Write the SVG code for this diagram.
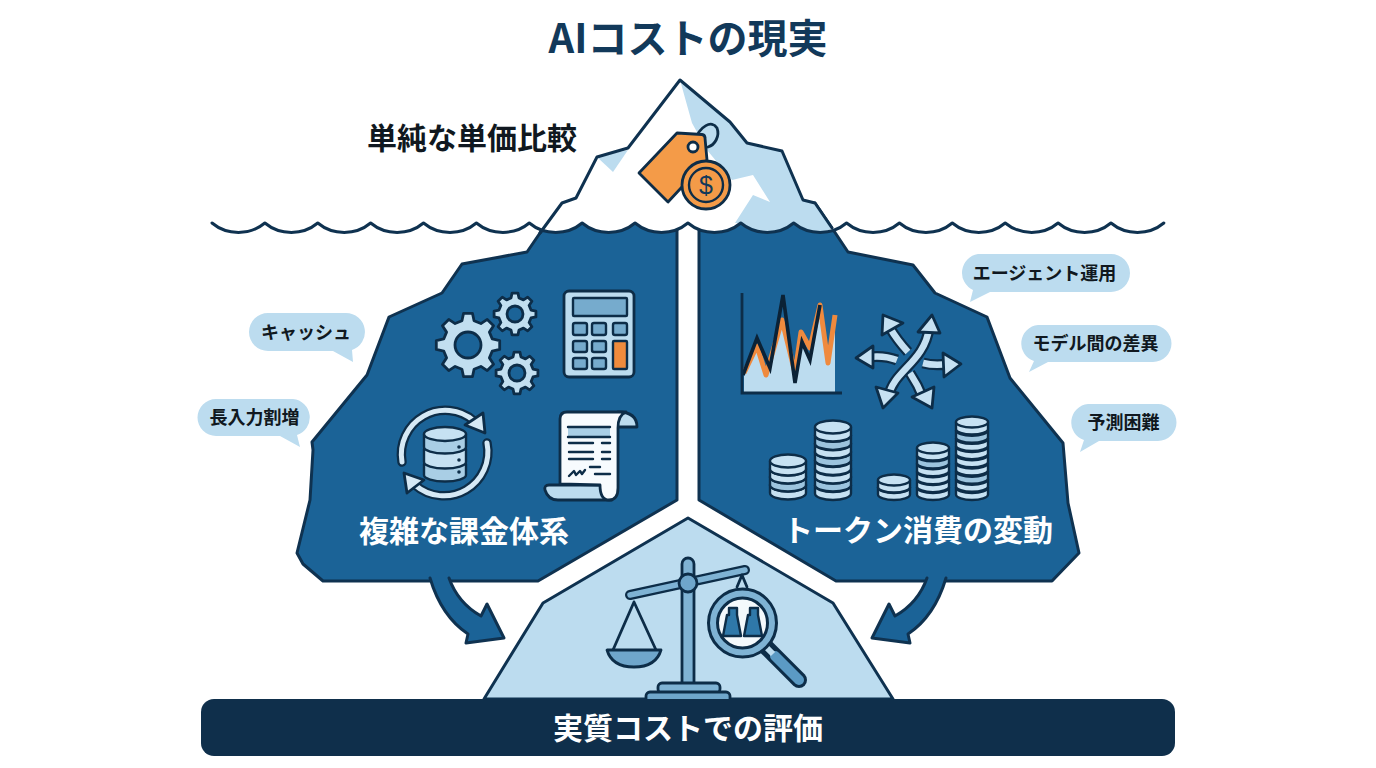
<svg xmlns="http://www.w3.org/2000/svg" xmlns:xlink="http://www.w3.org/1999/xlink" width="1376" height="768" viewBox="0 0 1376 768">
<style>
text{font-family:"Noto Sans CJK JP","Noto Sans",sans-serif;font-weight:700;text-anchor:middle}
.title{font-size:40px;fill:#12395a}
.head{font-size:30px;fill:#101820}
.white{font-size:30px;fill:#fff}
.tag{font-size:18px;fill:#101820}
.ln{stroke:#0f3250;stroke-width:3;stroke-linejoin:round;stroke-linecap:round}
.ic{stroke:#0d2d48;stroke-width:2.8;stroke-linejoin:round;stroke-linecap:round}
.thin{stroke:#0d2d48;stroke-width:2.4;stroke-linejoin:round;stroke-linecap:round}
.panel{fill:#1b6397}
.pale{fill:#bcdcef}
.light{fill:#c6e1f2}
.mid{fill:#76abcd}
.dim{fill:#9cc4de}
.none{fill:none}
.gearfill{fill:#c2dff0;stroke:#0d2d48;stroke-width:2.8;stroke-linejoin:round;vector-effect:non-scaling-stroke}
</style>
<defs>
<polygon id="gear" class="gearfill" vector-effect="non-scaling-stroke" points="31.69,-4.45 31.69,4.45 24.26,6.05 21.43,12.88 25.56,19.26 19.26,25.56 12.88,21.43 6.05,24.26 4.45,31.69 -4.45,31.69 -6.05,24.26 -12.88,21.43 -19.26,25.56 -25.56,19.26 -21.43,12.88 -24.26,6.05 -31.69,4.45 -31.69,-4.45 -24.26,-6.05 -21.43,-12.88 -25.56,-19.26 -19.26,-25.56 -12.88,-21.43 -6.05,-24.26 -4.45,-31.69 4.45,-31.69 6.05,-24.26 12.88,-21.43 19.26,-25.56 25.56,-19.26 21.43,-12.88 24.26,-6.05"/>
<g id="coinL"><path class="thin" d="M-18 0v8a18 6.5 0 0 0 36 0v-8z"/><ellipse class="thin" rx="18" ry="6.5"/></g>
<g id="coinM"><path class="thin" d="M-16 0v7a16 5.5 0 0 0 32 0v-7z"/><ellipse class="thin" rx="16" ry="5.5"/></g>
</defs>

<rect width="1376" height="768" fill="#fff"/>
<text class="title" x="688" y="53">AIコストの現実</text>

<g id="panel-left">
<path class="panel ln" d="M677 215V500L538 581H323L303 564L297 553L310 500L313 450L312 442L367 375L389 317L442 293L462 264L527 252L540 233L562 203Z"/>
<g id="gears">
<use xlink:href="#gear" transform="translate(468 345)"/>
<circle class="panel ic" cx="468" cy="345" r="13"/>
<use xlink:href="#gear" transform="translate(515 314) scale(.66)"/>
<circle class="panel ic" cx="515" cy="314" r="8"/>
<use xlink:href="#gear" transform="translate(517 373) scale(.66)"/>
<circle class="panel ic" cx="517" cy="373" r="8"/>
</g>
<g id="calculator">
<rect class="ic" x="564" y="291" width="70" height="86" rx="5" fill="#bcdcef"/>
<rect class="thin mid" x="573" y="298" width="54" height="18" rx="1"/>
<g class="thin mid">
<rect x="573" y="323" width="14" height="12" rx="2"/><rect x="592" y="323" width="14" height="12" rx="2"/><rect x="613" y="323" width="14" height="12" rx="2"/>
<rect x="573" y="341" width="14" height="11" rx="2"/><rect x="592" y="341" width="14" height="11" rx="2"/>
<rect x="573" y="358" width="14" height="11" rx="2"/><rect x="592" y="358" width="14" height="11" rx="2"/>
</g>
<rect class="thin" x="613" y="341" width="14" height="28" rx="1" fill="#f08b3c"/>
</g>
<g id="database-sync">
<path d="M402 462A44 44 0 0 1 474 421M487 443A44 44 0 0 1 415 485" fill="none" stroke="#0d2d48" stroke-width="9.500" stroke-linecap="round"/>
<path d="M402 462A44 44 0 0 1 474 421M487 443A44 44 0 0 1 415 485" fill="none" stroke="#d6e9f5" stroke-width="5" stroke-linecap="round"/>
<polygon class="ic" fill="#d6e9f5" points="483,413 485,433 465,425"/>
<polygon class="ic" fill="#d6e9f5" points="404,473 407,493 424,480"/>
<path class="thin" fill="#a9cee5" d="M424 464v11a21 6.5 0 0 0 42 0v-11z"/>
<path class="thin" fill="#c6e1f2" d="M424 449v13a21 6.5 0 0 0 42 0v-13z"/>
<path class="thin" fill="#a9cee5" d="M424 434v13a21 6.5 0 0 0 42 0v-13z"/>
<ellipse class="thin" fill="#c6e1f2" cx="445" cy="434" rx="21" ry="7"/>
<g fill="#0d2d48"><circle cx="459" cy="447" r="1.8"/><circle cx="459" cy="460" r="1.8"/><circle cx="459" cy="472" r="1.8"/></g>
</g>
<g id="invoice">
<path class="ic pale" d="M618 412Q637 412 637 427H616Z"/>
<path class="ic pale" d="M600 485H549Q544 485 545 490Q548 500 558 500H612Z"/>
<path class="ic" fill="#f7fbfe" d="M560 484V419Q560 412 567 412H626Q618 415 618 428V488Q618 500 609 500Q600 500 600 485Z"/>
<rect x="568" y="427" width="42" height="10" fill="#a9cee5"/>
<path class="thin none" d="M568 427H610M568 437H610M569 443H593M602 443H610M569 452H593M602 452H610M569 459H593M602 459H610M590 467H600M595 474H610"/>
<path class="thin none" d="M569 476L574 471L576 475L580 471L582 474L585 470"/>
</g>
<text class="white" x="464" y="542">複雑な課金体系</text>
</g>

<g id="panel-right">
<path class="panel ln" d="M699 215V500L836 581H1052L1079 553L1068 503L1063 443L1010 378L987 317L935 293L913 265L848 252L832 228L815 203Z"/>
<g id="volatility-chart">
<polygon class="pale" points="744,375 757,350 766,373 782,327 795,377 801,342 810,358 820,313 828,363 835,317 835,392 744,392"/>
<polyline fill="none" stroke="#ef8a3e" stroke-width="5" stroke-linejoin="round" points="744,373 757,346 766,375 782,320 795,373 801,332 810,348 820,305 828,363 835,315"/>
<polyline fill="none" stroke="#0b2236" stroke-width="3.6" stroke-linejoin="miter" points="743,375 757,338 770,368 783,295 795,383 802,342 810,360 820,305"/>
<path fill="none" stroke="#0d2d48" stroke-width="2.8" d="M742 293V393H842"/>
</g>
<g id="diverging-arrows">
<path d="M908 352Q897 340 890 328M897 360Q884 355 868 357M923 363Q934 366 948 364M910 373Q918 385 923 398" fill="none" stroke="#0d2d48" stroke-width="11"/>
<path d="M908 352Q897 340 890 328M897 360Q884 355 868 357M923 363Q934 366 948 364M910 373Q918 385 923 398" fill="none" stroke="#c6e1f2" stroke-width="6.500"/>
<polygon class="ic light" points="883,315 882,335 903,323"/>
<polygon class="ic light" points="856,358 873,346 873,368"/>
<polygon class="ic light" points="961,364 943,353 944,377"/>
<polygon class="ic light" points="932,408 912,397 934,387"/>
<path d="M889 396C892 372 925 362 929 328" fill="none" stroke="#0d2d48" stroke-width="11"/>
<path d="M889 396C892 372 925 362 929 328" fill="none" stroke="#c6e1f2" stroke-width="6.500"/>
<polygon class="ic light" points="932,315 918,332 940,333"/>
<polygon class="ic light" points="883,408 876,387 898,393"/>
</g>
<g id="token-coins">
<use xlink:href="#coinL" x="788" y="485" class="light"/>
<use xlink:href="#coinL" x="788" y="477" class="dim"/>
<use xlink:href="#coinL" x="788" y="469" class="light"/>
<use xlink:href="#coinL" x="788" y="461" class="light"/>
<use xlink:href="#coinL" x="833" y="485.5" class="light"/>
<use xlink:href="#coinL" x="833" y="477" class="dim"/>
<use xlink:href="#coinL" x="833" y="469" class="light"/>
<use xlink:href="#coinL" x="833" y="460.5" class="light"/>
<use xlink:href="#coinL" x="833" y="452" class="dim"/>
<use xlink:href="#coinL" x="833" y="443.7" class="light"/>
<use xlink:href="#coinL" x="833" y="435.4" class="dim"/>
<use xlink:href="#coinL" x="833" y="427" class="light"/>
<use xlink:href="#coinM" x="894" y="487.5" class="light"/>
<use xlink:href="#coinM" x="894" y="480" class="light"/>
<use xlink:href="#coinM" x="933" y="487.5" class="light"/>
<use xlink:href="#coinM" x="933" y="479.6" class="light"/>
<use xlink:href="#coinM" x="933" y="471.7" class="light"/>
<use xlink:href="#coinM" x="933" y="463.8" class="light"/>
<use xlink:href="#coinM" x="933" y="455.9" class="dim"/>
<use xlink:href="#coinM" x="933" y="448" class="light"/>
<use xlink:href="#coinM" x="972" y="487.5" class="light"/>
<use xlink:href="#coinM" x="972" y="479.3" class="light"/>
<use xlink:href="#coinM" x="972" y="471.2" class="dim"/>
<use xlink:href="#coinM" x="972" y="463" class="light"/>
<use xlink:href="#coinM" x="972" y="454.8" class="light"/>
<use xlink:href="#coinM" x="972" y="446.6" class="light"/>
<use xlink:href="#coinM" x="972" y="438.4" class="light"/>
<use xlink:href="#coinM" x="972" y="430.2" class="dim"/>
<use xlink:href="#coinM" x="972" y="422" class="light"/>
</g>
<text class="white" x="918" y="541">トークン消費の変動</text>
</g>

<g id="iceberg-tip">
<path fill="#fff" d="M680 80L730 122L747 143L782 151L803 200L815 203L832 228L847 223c-15 12.5-38 12.5-52.880 0c-15 12.5-38 12.5-52.880 0c-15 12.5-38 12.5-52.880 0c-15 12.5-38 12.5-52.880 0c-15 12.5-38 12.5-52.880 0c-15 12.5-38 12.5-52.880 0Z"/>
<path class="pale" d="M680 80L730 122L747 143L782 151L803 200L815 203L832 228L825 232L810 231L794 223C779 235 756 235 741 223L735 223L753 195L770 202L753 175L732 180L707 150L692 123Z"/>
<polygon class="pale" points="597,157 628,150 613,172"/>
<path class="ln none" d="M540 233L562 203L576 198L597 157L628 148L680 80L730 122L747 143L782 151L803 200L815 203L832 228"/>
<g id="price-tag">
<path class="ic" fill="none" d="M694 142C700 125 712 120 717 128C720 136 715 145 708 147"/>
<path class="ic" fill="#f49b48" d="M677 133L702 134.500Q705 135 705 138L707 160L668 202L639 173Z"/>
<circle class="ic" cx="693" cy="147" r="5" fill="#fff"/>
<circle class="ic" cx="706" cy="185" r="24" fill="#f49b48"/>
<circle class="thin none" cx="706" cy="185" r="17"/>
<text x="706" y="194" style="font-size:25px;font-weight:400;fill:#12395a;font-family:'Liberation Sans',sans-serif">$</text>
</g>
</g>

<path id="waterline" class="none" stroke="#0f3250" stroke-width="3" stroke-linecap="round" stroke-linejoin="round" d="M212 223c15 12.500 38 12.500 52.880 0c15 12.500 38 12.500 52.880 0c15 12.500 38 12.500 52.880 0c15 12.500 38 12.500 52.880 0c15 12.500 38 12.500 52.880 0c15 12.500 38 12.500 52.880 0c15 12.500 38 12.500 52.880 0c15 12.500 38 12.500 52.880 0c15 12.500 38 12.500 52.880 0c15 12.500 38 12.500 52.880 0c15 12.500 38 12.500 52.880 0c15 12.500 38 12.500 52.880 0c15 12.500 38 12.500 52.880 0c15 12.500 38 12.500 52.880 0c15 12.500 38 12.500 52.880 0c15 12.500 38 12.500 52.880 0c15 12.500 38 12.500 52.880 0c15 12.500 38 12.500 52.880 0"/>
<text class="head" x="472" y="149">単純な単価比較</text>

<g id="connectors">
<path class="panel ln" d="M430 578C438 605 450 622 468 634L466 643L504 638L487 604L481 616C465 607 455 595 449 578"/>
<path class="panel ln" d="M946 578C938 605 926 622 908 634L910 643L872 638L889 604L895 616C911 607 921 595 927 578"/>
</g>

<g id="real-cost">
<polygon class="pale ln" points="688,518 833,603 893,699 484,699 543,603"/>
<g id="balance">
<rect class="ic" x="682" y="558" width="12" height="130" rx="6" fill="#7fb3d4"/>
<path d="M630 595L745 570" stroke="#0d2d48" stroke-width="10" stroke-linecap="round" fill="none"/>
<path d="M630 595L745 570" stroke="#7fb3d4" stroke-width="5.500" stroke-linecap="round" fill="none"/>
<circle class="ic" cx="688" cy="583" r="9" fill="#6fa6cb"/>
<path class="ic none" d="M634 602L613 650M634 602L656 650M742 575L737 587M742 575L747 587"/>
<path class="ic" fill="#6fa6cb" d="M607 650H661Q656 667 634 667Q612 667 607 650Z"/>
<rect class="ic" x="658" y="683" width="62" height="10" rx="4" fill="#7fb3d4"/>
<rect class="ic" x="646" y="692" width="84" height="12" rx="4" fill="#6fa6cb"/>
</g>
<g id="magnifier">
<path d="M766 647L799 680" stroke="#0d2d48" stroke-width="16" stroke-linecap="round"/>
<path d="M775 656L799 680" stroke="#5b9ac4" stroke-width="10" stroke-linecap="round"/>
<path d="M766 647L773 654" stroke="#bcdcef" stroke-width="6"/>
<circle cx="742.500" cy="623" r="34" fill="#7fb3d4" stroke="#0d2d48" stroke-width="3"/>
<circle cx="742.500" cy="623" r="25" fill="#f4f9fc" stroke="#0d2d48" stroke-width="3"/>
<path class="thin" fill="#2f78a9" d="M729 608H737V615L741 636H723L727 615H729Z"/>
<path class="thin" fill="#2f78a9" d="M750 608H758V615L762 636H744L748 615H750Z"/>
</g>
</g>

<g id="result-bar">
<rect x="201" y="699" width="974" height="57" rx="13" fill="#0f2f4b"/>
<text class="white" x="688" y="739">実質コストでの評価</text>
</g>

<g id="note-cache">
<path class="pale" d="M268 313H346A19 19 0 0 1 352 350L353 362L333 351H268A19 19 0 0 1 268 313Z"/>
<text class="tag" x="306" y="339">キャッシュ</text>
</g>
<g id="note-long-input">
<path class="pale" d="M216 399H293A18.500 18.500 0 0 1 297 435L300 447L280 436H216A18.500 18.500 0 0 1 216 399Z"/>
<text class="tag" x="254.500" y="424">長入力割増</text>
</g>
<g id="note-agent">
<path class="pale" d="M978 254H1111A19 19 0 0 1 1111 292H990L970 302L973 290A19 19 0 0 1 978 254Z"/>
<text class="tag" x="1044.500" y="280">エージェント運用</text>
</g>
<g id="note-models">
<path class="pale" d="M1038 325H1153A18.500 18.500 0 0 1 1153 362H1048L1029 372L1034 361A18.500 18.500 0 0 1 1038 325Z"/>
<text class="tag" x="1095.500" y="350">モデル間の差異</text>
</g>
<g id="note-forecast">
<path class="pale" d="M1088 404H1158A18.500 18.500 0 0 1 1158 441H1099L1080 452L1084 440A18.500 18.500 0 0 1 1088 404Z"/>
<text class="tag" x="1123.500" y="429">予測困難</text>
</g>
</svg>
